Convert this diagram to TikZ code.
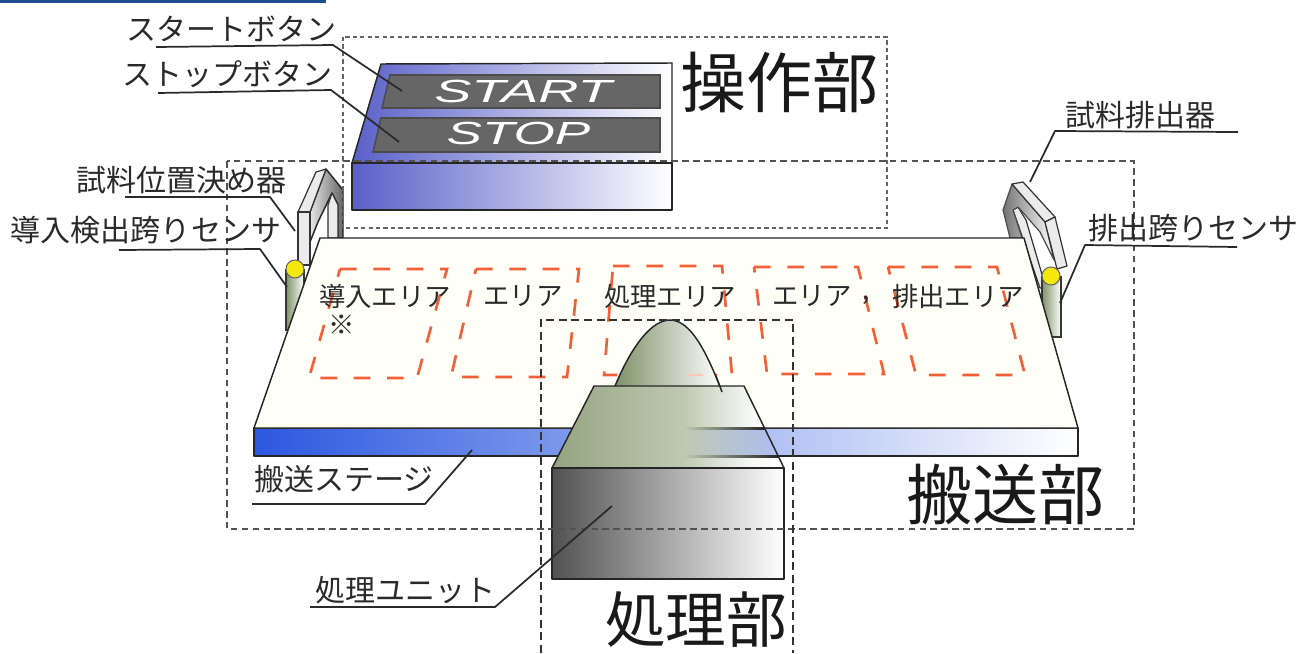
\documentclass[tikz,border=0pt]{standalone}
\usepackage{graphicx}
\usepackage{fontspec}
\setmainfont{Liberation Sans}
\newfontfamily\jp{Noto Sans CJK JP}
\definecolor{ink}{HTML}{2A2A2A}
\definecolor{plate}{HTML}{FFFFF8}
\definecolor{red1}{HTML}{F45F38}
\definecolor{stageblue}{HTML}{2C58E0}
\definecolor{stagemid}{HTML}{8099F2}
\definecolor{panelblue}{HTML}{5A60C8}
\definecolor{panelmid}{HTML}{A2AEEA}
\definecolor{olive1}{HTML}{93A480}
\definecolor{olive2}{HTML}{BFC9B2}
\definecolor{olive3}{HTML}{7F9269}
\definecolor{btn}{HTML}{666666}
\definecolor{toprule}{HTML}{1E4E91}
\definecolor{throughmid}{HTML}{B2C1D2}
\definecolor{throughend}{HTML}{AEBDF2}
\definecolor{lineend}{HTML}{262626}
\pgfdeclarehorizontalshading{hoodshade}{100bp}{color(0bp)=(olive1); color(25bp)=(olive1); color(53.4bp)=(olive2); color(68bp)=(olive2!12!white); color(75bp)=(white); color(100bp)=(white)}
\tikzset{
  lab/.style={font=\jp\fontsize{22.5}{26}\selectfont,text=ink,inner sep=0pt},
  arealab/.style={font=\jp\fontsize{19.8}{24}\selectfont,text=ink,inner sep=0pt},
  biglab/.style={font=\jp\fontsize{49.5}{56}\selectfont,text=black!90,inner sep=0pt},
  btnlab/.style={font=\itshape\fontsize{24}{28}\selectfont,text=white,inner sep=0pt},
  leader/.style={draw=ink,line width=1.3pt,line join=round},
  areabox/.style={draw=red1,line width=2pt,dash pattern=on 12.5pt off 12.5pt},
  edge/.style={draw=black!85,line width=1.1pt,line join=round},
  greybar/.style={draw=black!80,line width=.9pt,fill=black!8,line join=round},
  sensorbody/.style={draw=black!60!olive3,line width=.8pt,left color=olive3,right color=white},
  sensorhead/.style={draw=black!60,line width=.8pt,fill=yellow!95!black},
  opbox/.style={draw=black!60,line width=1.4pt,dash pattern=on 3.2pt off 2.4pt},
  convbox/.style={draw=black!68,line width=1.8pt,dash pattern=on 5pt off 3.2pt},
  procbox/.style={draw=black!80,line width=2pt,dash pattern=on 6pt off 3.4pt},
  throughline/.style={left color=olive2,middle color=lineend,right color=lineend},
}
\begin{document}
\begin{tikzpicture}[x=0.75pt,y=-0.75pt]
\useasboundingbox (0,0) rectangle (1298,653);
\fill[white] (0,0) rectangle (1298,653);
\fill[toprule] (0,0) rectangle (326,3);

% left positioner
\path[shade,left color=black!10,right color=black!60,edge] (326,169)--(343,190)--(343,238)--(338,238)--(338,205)--(332,193)--(318,222)--(310,242)--(310,212)--cycle;
\draw[greybar] (328,205)--(332,193)--(338,205)--(338,238)--(328,238)--cycle;
\draw[greybar] (298,212)--(316,172)--(326,169)--(310,212)--cycle;
\draw[greybar] (298,212)--(310,212)--(310,265)--(298,265)--cycle;
\draw[edge] (310,265)--(320,265);

% right ejector
\draw[greybar] (1013,210)--(1018,207)--(1026,220)--(1046,288)--(1040,288)--cycle;
\path[shade,left color=black!55,middle color=black!20,right color=white,draw=black!70,line width=.9pt,line join=round] (1012,184)--(1045,222)--(1054,260)--(1040,232)--(1026,216)--(1018,207)--(1013,210)--(1022,238)--(1010,238)--(1003,210)--cycle;
\draw[greybar] (1012,184)--(1023,182)--(1055,217)--(1045,222)--cycle;
\draw[greybar] (1045,222)--(1055,217)--(1067,266)--(1057,269)--cycle;

% sensors
\draw[sensorbody] (286,270) rectangle (304,330);
\draw[sensorbody] (1042,277) rectangle (1061,337);

% operation panel
\path[shade,left color=panelblue,middle color=panelmid,right color=white,edge] (381,64)--(672,63)--(672,163)--(352,163)--cycle;
\path[shade,left color=panelblue,middle color=panelmid,right color=white,edge] (352,163) rectangle (672,210);
\draw[draw=black!70,line width=1.2pt,fill=btn] (390,75)--(660,75)--(660,108)--(382,108)--cycle;
\draw[draw=black!70,line width=1.2pt,fill=btn] (381,118)--(660,118)--(660,152)--(373,152)--cycle;
\node[btnlab] (startlabel) at (523,91.5) {\scalebox{1.74}[1]{START}};
\node[btnlab] (stoplabel) at (518.5,133.5) {\scalebox{1.66}[1]{STOP}};

% stage
\path[shade,left color=stageblue,middle color=stagemid,right color=white,edge] (254,428) rectangle (1078,456);
\draw[edge,fill=plate] (320,238)--(1024,238)--(1078,428)--(254,428)--cycle;

% areas
\draw[areabox] (340,269)--(447,269)--(417,378)--(309,378)--cycle;
\draw[areabox] (476,269)--(579,269)--(567,377)--(451,377)--cycle;
\draw[areabox] (613,266)--(722,266)--(732,375)--(604,375)--cycle;
\draw[areabox] (754,267)--(858,267)--(884,374)--(767,374)--cycle;
\draw[areabox] (888,267)--(997,267)--(1025,375)--(916,375)--cycle;

\node[arealab] (a1) at (385,296.5) {導入エリア};
\node[arealab] (a1n) at (342,325) {※};
\node[arealab] (a2) at (523,296.5) {エリア};
\node[arealab] (a3) at (670,296.5) {処理エリア};
\node[arealab] (a4) at (812,296.5) {エリア};
\node[arealab] (a4c) at (866,300) {,};
\node[arealab] (a5) at (958,296.5) {排出エリア};

% sensor heads
\draw[sensorhead] (295,269) circle (9);
\draw[sensorhead] (1051,276) circle (9);

% processing unit
\path[shade,left color=olive3,middle color=olive2,right color=white,edge] (615,386) .. controls (632,345) and (652,320) .. (670,320) .. controls (690,320) and (706,350) .. (722,392);
\draw[draw=red1!35,line width=1.5pt] (687,375)--(703,375);
\shade[shading=hoodshade] (552,468)--(594,386)--(744,386)--(784,468)--cycle;
% stage seen through the hood
\shade[left color=olive2,middle color=throughmid,right color=throughend] (684,428)--(765,428)--(779,456)--(684,456)--cycle;
\shade[throughline] (684,427) rectangle (765,429);
\shade[throughline] (684,455) rectangle (779,457);
\draw[edge] (552,468)--(594,386)--(744,386)--(784,468);
\draw[edge] (716,376)--(722,392);
\path[shade,left color=black!68,middle color=black!22,right color=white,edge] (552,468) rectangle (784,579);

% dashed regions
\draw[opbox] (343,37) rectangle (887,228);
\draw[convbox] (227,161) rectangle (1134,529);
\draw[procbox] (541,653)--(541,320)--(793,320)--(793,653);

% leaders
\coordinate (s1) at (156,47); \coordinate (s2) at (333,45); \coordinate (s3) at (402,91);
\coordinate (t1) at (158,93); \coordinate (t2) at (331,90); \coordinate (t3) at (399,142);
\coordinate (p1) at (125,197); \coordinate (p2) at (270,197); \coordinate (p3) at (295,231);
\coordinate (d1) at (119,250); \coordinate (d2) at (260,249); \coordinate (d3) at (287,287);
\coordinate (e1) at (1238,132); \coordinate (e2) at (1055,131); \coordinate (e3) at (1030,182);
\coordinate (h1) at (1237,247); \coordinate (h2) at (1085,245); \coordinate (h3) at (1060,303);
\coordinate (c1) at (252,504); \coordinate (c2) at (425,504); \coordinate (c3) at (472,450);
\coordinate (u1) at (310,607); \coordinate (u2) at (495,607); \coordinate (u3) at (612,506);
\draw[leader] (s1)--(s2)--(s3);
\draw[leader] (t1)--(t2)--(t3);
\draw[leader] (p1)--(p2)--(p3);
\draw[leader] (d1)--(d2)--(d3);
\draw[leader] (e1)--(e2)--(e3);
\draw[leader] (h1)--(h2)--(h3);
\draw[leader] (c1)--(c2)--(c3);
\draw[leader] (u1)--(u2)--(u3);

% labels
\node[lab] (l1) at (231.5,29) {スタートボタン};
\node[lab] (l2) at (227.5,74) {ストップボタン};
\node[lab] (l3) at (181,180) {試料位置決め器};
\node[lab] (l4) at (146,230) {導入検出跨りセンサ};
\node[lab] (l5) at (1140.5,115) {試料排出器};
\node[lab] (l6) at (1193.5,228) {排出跨りセンサ};
\node[lab] (l7) at (344,479) {搬送ステージ};
\node[lab] (l8) at (405.5,590) {処理ユニット};
\node[biglab] (b1) at (779,82) {操作部};
\node[biglab] (b2) at (1005,495) {搬送部};
\node[biglab,font=\jp\fontsize{45.5}{52}\selectfont] (b3) at (696,620) {処理部};
\end{tikzpicture}
\end{document}
